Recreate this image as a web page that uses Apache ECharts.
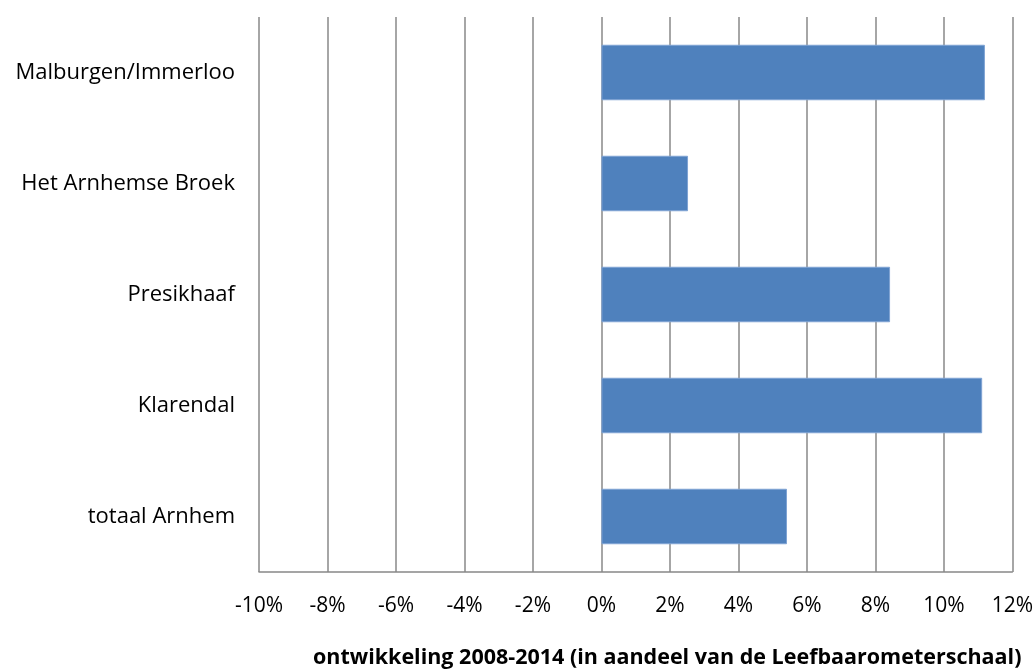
<!DOCTYPE html>
<html>
<head>
<meta charset="utf-8">
<script src="https://cdn.jsdelivr.net/npm/echarts@6/dist/echarts.min.js"></script>
<style>html,body{margin:0;padding:0;background:#fff;}#c{width:1036px;height:670px;}</style>
</head>
<body>
<div id="c"></div>
<script>
var categories = ['Malburgen/Immerloo', 'Het Arnhemse Broek', 'Presikhaaf', 'Klarendal', 'totaal Arnhem'];
var values = [11.2, 2.53, 8.43, 11.12, 5.42];
var axisTitle = 'ontwikkeling 2008-2014 (in aandeel van de Leefbaarometerschaal)';
var xMin = -10, xMax = 12, xStep = 2;

var font = '"Open Sans", "Noto Sans", sans-serif';
var chart = echarts.init(document.getElementById('c'), null, {renderer: 'canvas'});
chart.setOption({
  animation: false,
  backgroundColor: '#fff',
  grid: {left: 259, right: 23, top: 17, bottom: 98, containLabel: false},
  xAxis: {
    type: 'value', min: xMin, max: xMax, interval: xStep,
    axisLine: {show: true, lineStyle: {color: '#888888', width: 1.5}},
    axisTick: {show: false},
    splitLine: {show: true, lineStyle: {color: '#888888', width: 1.5}},
    axisLabel: {
      formatter: function (v) { return v + '%'; },
      color: '#000', fontFamily: font, fontSize: 21, margin: 24
    }
  },
  yAxis: {
    type: 'category', data: categories, inverse: true,
    axisLine: {show: false},
    axisTick: {show: false},
    splitLine: {show: false},
    axisLabel: {color: '#000', fontFamily: font, fontSize: 22, margin: 24}
  },
  series: [{
    type: 'bar', data: values, barCategoryGap: '50%',
    itemStyle: {color: '#4F81BD', borderColor: '#7FA3D3', borderWidth: 1}
  }],
  graphic: [{
    type: 'text', left: 313, top: 647,
    style: {text: axisTitle, fill: '#000', font: 'bold 21.5px ' + font}
  }]
});
</script>
</body>
</html>
